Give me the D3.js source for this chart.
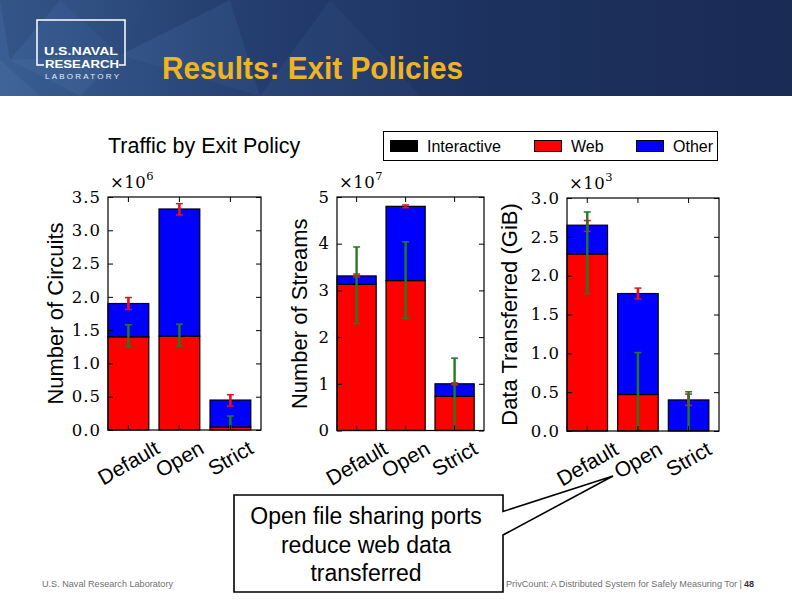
<!DOCTYPE html>
<html><head><meta charset="utf-8">
<script src="https://cdn.jsdelivr.net/npm/d3@7"></script>
<style>body{margin:0;background:#fff}svg{display:block}</style>
</head><body>
<svg id="c" width="792" height="612"></svg>
<script>
// ---------- data ----------
const categories = ["Default", "Open", "Strict"];
const seriesNames = ["Interactive", "Web", "Other"];
const panelLabels = ["Number of Circuits", "Number of Streams", "Data Transferred (GiB)"];
const panelExponents = ["6", "7", "3"];

const circuitsTicks = [0, 0.5, 1, 1.5, 2, 2.5, 3, 3.5];
const circuitsInteractive = [0, 0, 0];
const circuitsWeb = [1.40, 1.41, 0.045];
const circuitsOther = [0.50, 1.91, 0.405];
const circuitsTotalLow = [1.81, 3.23, 0.36];
const circuitsTotalHigh = [1.99, 3.40, 0.53];
const circuitsWebLow = [1.25, 1.26, 0];
const circuitsWebHigh = [1.58, 1.59, 0.21];

const streamsTicks = [0, 1, 2, 3, 4, 5];
const streamsInteractive = [0, 0, 0];
const streamsWeb = [3.13, 3.21, 0.73];
const streamsOther = [0.18, 1.59, 0.27];
const streamsTotalLow = [3.29, 4.77, 0.98];
const streamsTotalHigh = [3.35, 4.83, 1.02];
const streamsWebLow = [2.29, 2.40, 0];
const streamsWebHigh = [3.93, 4.04, 1.55];

const dataTicks = [0, 0.5, 1, 1.5, 2, 2.5, 3];
const dataInteractive = [0, 0, 0];
const dataWeb = [2.28, 0.47, 0];
const dataOther = [0.37, 1.30, 0.40];
const dataTotalLow = [2.57, 1.70, 0.33];
const dataTotalHigh = [2.71, 1.84, 0.475];
const dataWebLow = [1.77, 0, 0];
const dataWebHigh = [2.82, 1.01, 0.505];

const chartTitle = "Traffic by Exit Policy";
const slideTitle = "Results: Exit Policies";
const logoLines = ["U.S.NAVAL", "RESEARCH", "LABORATORY"];
const calloutLines = ["Open file sharing ports", "reduce web data", "transferred"];
const footerLeft = "U.S. Naval Research Laboratory";
const footerRight = "PrivCount: A Distributed System for Safely Measuring Tor | ";
const pageNumber = "48";

// ---------- drawing ----------
const svg = d3.select("#c");
const SANS = "'Liberation Sans', Arial, sans-serif";
const SERIF = "'DejaVu Serif', serif";
const colors = {Interactive: "#000000", Web: "#ff0000", Other: "#0000ff"};

// header
const defs = svg.append("defs");
const grad = defs.append("linearGradient").attr("id", "hg").attr("x1", 0).attr("x2", 1).attr("y1", 0).attr("y2", 0);
grad.append("stop").attr("offset", "0%").attr("stop-color", "#3a5e93");
grad.append("stop").attr("offset", "30%").attr("stop-color", "#264274");
grad.append("stop").attr("offset", "60%").attr("stop-color", "#1d3260");
grad.append("stop").attr("offset", "100%").attr("stop-color", "#1a2b54");
svg.append("rect").attr("x", 0).attr("y", 0).attr("width", 792).attr("height", 96).attr("fill", "url(#hg)");
const facets = [
  [[0,0],[60,0],[10,60]], [[0,60],[40,96],[0,96]], [[60,0],[150,0],[120,55]],
  [[120,55],[230,0],[260,96]], [[150,0],[230,0],[120,55]], [[10,60],[120,55],[80,96]],
  [[230,0],[330,0],[260,96]], [[260,96],[330,0],[420,96]]
];
const facetOp = [0.12, 0.08, 0.07, 0.06, 0.10, 0.08, 0.05, 0.04];
svg.append("g").selectAll("path").data(facets).enter().append("path")
  .attr("d", d => "M" + d.join("L") + "Z")
  .attr("fill", (d, i) => i % 2 ? "#8fb0e0" : "#0c1a3a")
  .attr("opacity", (d, i) => facetOp[i]);

// logo
svg.append("path").attr("d", "M44,65 L37,65 L37,20 L125,20 L125,65 L119,65")
  .attr("fill", "none").attr("stroke", "#fff").attr("stroke-width", 1.5);
svg.append("text").attr("x", 44).attr("y", 54.5).attr("textLength", 74).attr("lengthAdjust", "spacingAndGlyphs")
  .attr("font-family", SANS).attr("font-weight", "bold").attr("font-size", 11.5).attr("fill", "#fff").text(logoLines[0]);
svg.append("text").attr("x", 45).attr("y", 67.5).attr("textLength", 74).attr("lengthAdjust", "spacingAndGlyphs")
  .attr("font-family", SANS).attr("font-weight", "bold").attr("font-size", 11.5).attr("fill", "#fff").text(logoLines[1]);
svg.append("text").attr("x", 45).attr("y", 78.5).attr("textLength", 74).attr("lengthAdjust", "spacing")
  .attr("font-family", SANS).attr("font-size", 8).attr("fill", "#e8eef8").text(logoLines[2]);
svg.append("text").attr("x", 162).attr("y", 79).attr("textLength", 301).attr("lengthAdjust", "spacingAndGlyphs")
  .attr("font-family", SANS).attr("font-weight", "bold").attr("font-size", 31).attr("fill", "#f0b323").text(slideTitle);

// chart title
svg.append("text").attr("x", 108).attr("y", 153).attr("font-family", SANS).attr("font-size", 21.5)
  .attr("fill", "#000").text(chartTitle);

// legend
const lg = svg.append("g");
lg.append("rect").attr("x", 383.5).attr("y", 131.5).attr("width", 334).attr("height", 29)
  .attr("fill", "#fff").attr("stroke", "#000").attr("stroke-width", 1);
const legendX = [390, 534, 636];
seriesNames.forEach((s, i) => {
  lg.append("rect").attr("x", legendX[i] + 0.5).attr("y", 140.5).attr("width", 27).attr("height", 11)
    .attr("fill", colors[s]).attr("stroke", "#000").attr("stroke-width", 1);
  lg.append("text").attr("x", legendX[i] + 37).attr("y", 152).attr("font-family", SANS).attr("font-size", 16)
    .attr("fill", "#000").text(s);
});

const panels = [
  {ticks: circuitsTicks, inter: circuitsInteractive, web: circuitsWeb, other: circuitsOther,
   tLo: circuitsTotalLow, tHi: circuitsTotalHigh, wLo: circuitsWebLow, wHi: circuitsWebHigh,
   left: 108, right: 261, top: 197, bottom: 430, labelX: 63, fmt: d3.format(".1f")},
  {ticks: streamsTicks, inter: streamsInteractive, web: streamsWeb, other: streamsOther,
   tLo: streamsTotalLow, tHi: streamsTotalHigh, wLo: streamsWebLow, wHi: streamsWebHigh,
   left: 337, right: 484, top: 197, bottom: 430.5, labelX: 307, fmt: d3.format("d")},
  {ticks: dataTicks, inter: dataInteractive, web: dataWeb, other: dataOther,
   tLo: dataTotalLow, tHi: dataTotalHigh, wLo: dataWebLow, wHi: dataWebHigh,
   left: 567, right: 719, top: 198, bottom: 431, labelX: 517, fmt: d3.format(".1f")}
];

panels.forEach((p, pi) => {
  const g = svg.append("g");
  const x = d3.scaleBand().domain(categories).range([p.left, p.right])
    .paddingInner(0.2).paddingOuter(0.1).align(0);
  const y = d3.scaleLinear().domain([0, d3.max(p.ticks)]).range([p.bottom, p.top]);
  const rows = categories.map((c, i) => ({cat: c, Interactive: p.inter[i], Web: p.web[i], Other: p.other[i]}));
  const stacked = d3.stack().keys(seriesNames)(rows);
  stacked.forEach(layer => {
    g.append("g").selectAll("rect").data(layer).enter().append("rect")
      .attr("x", d => x(d.data.cat)).attr("width", x.bandwidth())
      .attr("y", d => y(d[1])).attr("height", d => y(d[0]) - y(d[1]))
      .attr("fill", colors[layer.key]).attr("stroke", "#000").attr("stroke-width", 1.2);
  });
  // error bars
  const drawErr = (lo, hi, color, lw) => {
    const eg = g.append("g");
    categories.forEach((c, i) => {
      const cx = x(c) + x.bandwidth() / 2;
      eg.append("line").attr("x1", cx).attr("x2", cx).attr("y1", y(lo[i])).attr("y2", y(hi[i]))
        .attr("stroke", color).attr("stroke-width", lw);
      [lo[i], hi[i]].forEach(v => {
        if (v <= 0) return;
        eg.append("line").attr("x1", cx - 3.5).attr("x2", cx + 3.5).attr("y1", y(v)).attr("y2", y(v))
          .attr("stroke", color).attr("stroke-width", 1.5);
      });
    });
  };
  drawErr(p.tLo, p.tHi, "#e8101c", 2.6);
  drawErr(p.wLo, p.wHi, "#237a23", 2.4);

  // axes
  const ax = g.append("g").attr("transform", `translate(${p.left},0)`)
    .call(d3.axisLeft(y).tickValues(p.ticks).tickFormat(p.fmt).tickSizeInner(-5).tickSizeOuter(0).tickPadding(7));
  ax.select(".domain").remove();
  ax.selectAll("text").attr("font-family", SERIF).attr("font-size", 16.5).attr("fill", "#000").attr("letter-spacing", 1);
  const ar = g.append("g").attr("transform", `translate(${p.right},0)`)
    .call(d3.axisRight(y).tickValues(p.ticks).tickFormat("").tickSizeInner(-5).tickSizeOuter(0));
  ar.select(".domain").remove();
  const ab = g.append("g").attr("transform", `translate(0,${p.bottom})`)
    .call(d3.axisBottom(x).tickFormat("").tickSizeInner(-5).tickSizeOuter(0));
  ab.select(".domain").remove();
  const at = g.append("g").attr("transform", `translate(0,${p.top})`)
    .call(d3.axisTop(x).tickFormat("").tickSizeInner(-5).tickSizeOuter(0));
  at.select(".domain").remove();
  g.selectAll(".tick line").attr("stroke", "#000").attr("stroke-width", 1);

  // frame
  g.append("rect").attr("x", p.left).attr("y", p.top).attr("width", p.right - p.left).attr("height", p.bottom - p.top)
    .attr("fill", "none").attr("stroke", "#000").attr("stroke-width", 1.2);

  // multiplier
  const mt = g.append("text").attr("x", p.left + 2).attr("y", p.top - 9).attr("font-family", SERIF)
    .attr("font-size", 16.5).attr("fill", "#000").attr("letter-spacing", 0.5);
  mt.append("tspan").text("\u00d710");
  mt.append("tspan").attr("dy", -8).attr("font-size", 11.5).text(panelExponents[pi]);

  // y label
  g.append("text").attr("transform", `translate(${p.labelX},${(p.top + p.bottom) / 2}) rotate(-90)`)
    .attr("text-anchor", "middle").attr("font-family", SANS).attr("font-size", 22).attr("fill", "#000")
    .text(panelLabels[pi]);

  // x labels
  categories.forEach(c => {
    const cx = x(c) + x.bandwidth() / 2;
    const t = g.append("text").attr("font-family", SANS).attr("font-size", 21).attr("fill", "#000")
      .attr("text-anchor", "middle").attr("dominant-baseline", "central").text(c);
    const L = t.node().getComputedTextLength();
    const h = 16;
    const cy = p.bottom + 9 + (L * 0.5 + h * 0.866) / 2;
    t.attr("x", cx).attr("y", cy).attr("transform", `rotate(-30,${cx},${cy})`);
  });
});

// callout
svg.append("path")
  .attr("d", "M234,495 L503,495 L503,511.5 L613,476 L503,535 L503,592 L234,592 Z")
  .attr("fill", "#fff").attr("stroke", "#000").attr("stroke-width", 1.6).attr("stroke-linejoin", "miter");
calloutLines.forEach((s, i) => {
  svg.append("text").attr("x", 366).attr("y", 524 + i * 28.5).attr("text-anchor", "middle")
    .attr("font-family", SANS).attr("font-size", 23).attr("fill", "#000").text(s);
});

// footer
svg.append("text").attr("x", 42).attr("y", 587).attr("textLength", 131).attr("lengthAdjust", "spacingAndGlyphs")
  .attr("font-family", SANS).attr("font-size", 9).attr("fill", "#707070").text(footerLeft);
svg.append("text").attr("x", 506).attr("y", 587).attr("textLength", 236).attr("lengthAdjust", "spacingAndGlyphs")
  .attr("font-family", SANS).attr("font-size", 9).attr("fill", "#707070").text(footerRight);
svg.append("text").attr("x", 744).attr("y", 587).attr("font-family", SANS).attr("font-size", 9)
  .attr("font-weight", "bold").attr("fill", "#333").text(pageNumber);
</script>
</body></html>
